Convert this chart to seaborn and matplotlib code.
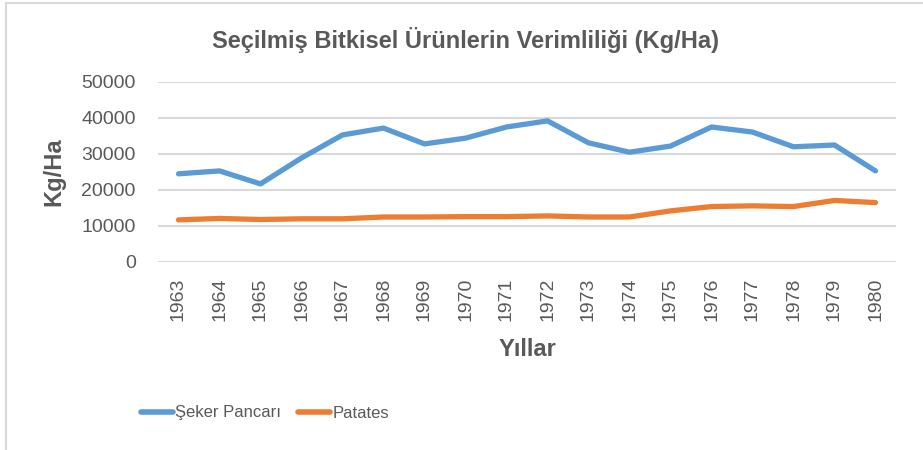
import pandas as pd
import matplotlib
matplotlib.use("Agg")
import matplotlib.pyplot as plt
import seaborn as sns
from matplotlib.lines import Line2D
from matplotlib import font_manager

# Veriler (grafikten okunan yaklaşık değerler)
years = [1963, 1964, 1965, 1966, 1967, 1968, 1969, 1970, 1971,
         1972, 1973, 1974, 1975, 1976, 1977, 1978, 1979, 1980]
seker_pancari = [24500, 25300, 21700, 28900, 35300, 37200, 32800, 34400, 37500,
                 39200, 33100, 30500, 32200, 37500, 36100, 32000, 32500, 25300]
patates = [11700, 12100, 11800, 12000, 12000, 12500, 12500, 12600, 12600,
           12800, 12500, 12500, 14200, 15400, 15600, 15400, 17100, 16500]
series_names = ["Şeker Pancarı", "Patates"]
colors = ["#5B9BD5", "#ED7D31"]
y_ticks = [0, 10000, 20000, 30000, 40000, 50000]

df = pd.DataFrame({
    "Yıl": [str(y) for y in years] * 2,
    "Değer": seker_pancari + patates,
    "Ürün": [series_names[0]] * len(years) + [series_names[1]] * len(years),
})

sns.set_theme(style="white")
plt.rcParams["font.family"] = ["Liberation Sans", "DejaVu Sans"]
text_gray = "#595959"

# Lejant için dar yazı tipi (varsa)
try:
    font_manager.findfont("Liberation Sans Narrow", fallback_to_default=False)
    legend_font = {"family": ["Liberation Sans Narrow", "Liberation Sans"], "size": 14}
except Exception:
    legend_font = {"family": ["Liberation Sans", "DejaVu Sans"], "size": 12}

fig = plt.figure(figsize=(9.23, 4.5), dpi=100)
ax = fig.add_axes([158 / 923, 1 - 262 / 450, 738 / 923, 180 / 450])

sns.lineplot(data=df, x="Yıl", y="Değer", hue="Ürün", palette=colors,
             linewidth=3.8, ax=ax, legend=False, sort=False)

ax.set_xlim(-0.5, len(years) - 0.5)
ax.set_ylim(0, 50000)
ax.set_yticks(y_ticks)
ax.set_yticklabels([str(v) for v in y_ticks])
ax.yaxis.grid(True, color="#D9D9D9", linewidth=1.5)
ax.xaxis.grid(False)
for s in ax.spines.values():
    s.set_visible(False)
ax.tick_params(axis="both", length=0, colors=text_gray, labelsize=14)
ax.tick_params(axis="x", rotation=90, pad=11)
ax.tick_params(axis="y", pad=16)

ax.set_xlabel("Yıllar", fontsize=17, fontweight="bold", color=text_gray, va="center")
ax.set_ylabel("Kg/Ha", fontsize=17, fontweight="bold", color=text_gray, va="center")
ax.xaxis.set_label_coords((527 - 158) / 738, (262 - 349) / 180)
ax.yaxis.set_label_coords((54 - 158) / 738, (262 - 172) / 180)

fig.text(465 / 923, 1 - 40 / 450, "Seçilmiş Bitkisel Ürünlerin Verimliliği (Kg/Ha)",
         ha="center", va="center", fontsize=17, fontweight="bold", color=text_gray)

handles = [Line2D([0], [0], color=c, linewidth=4, solid_capstyle="round") for c in colors]
fig.legend(handles, series_names, loc="center", bbox_to_anchor=(265 / 923, 1 - 413 / 450),
           ncol=2, frameon=False, prop=legend_font, labelcolor=text_gray,
           handlelength=1.9, handletextpad=0.15, columnspacing=1.0)

# Grafik alanı çerçevesi (sol ve üst)
fig.add_artist(Line2D([6 / 923, 6 / 923], [0, 1 - 3 / 450], color="#D9D9D9",
                      linewidth=1.5, transform=fig.transFigure))
fig.add_artist(Line2D([6 / 923, 1], [1 - 3 / 450, 1 - 3 / 450], color="#D9D9D9",
                      linewidth=1.5, transform=fig.transFigure))

fig.savefig("out.png", dpi=100)
